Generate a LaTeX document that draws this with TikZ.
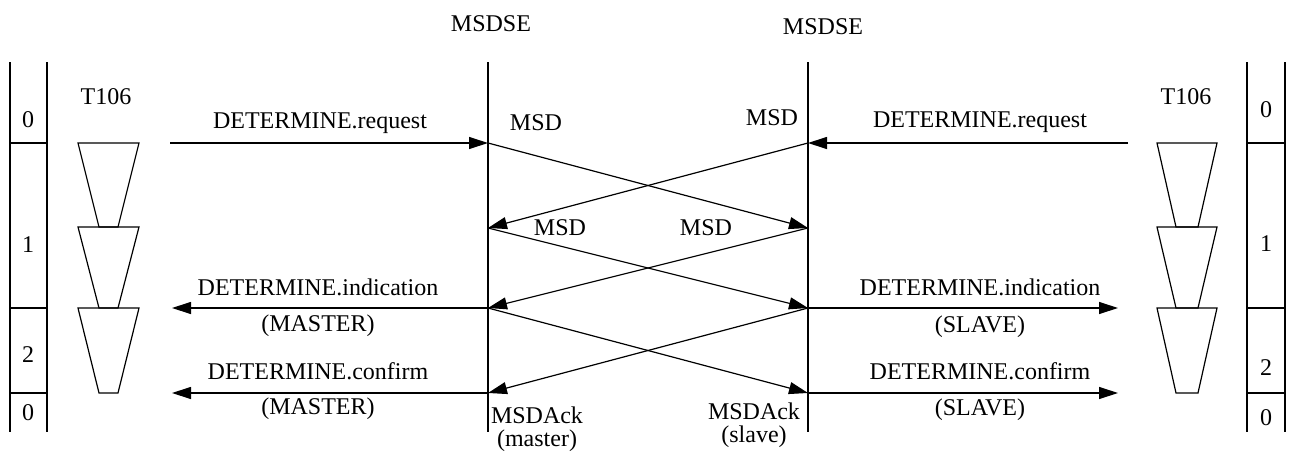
\documentclass[tikz,border=0pt]{standalone}
\usepackage{fontspec}
\setmainfont{Liberation Serif}
\usetikzlibrary{arrows.meta}
\tikzset{
  msg/.style={-{Triangle[length=9.5pt,width=6pt]}},
  lbl/.style={font=\fontsize{12}{14}\selectfont, inner sep=0pt},
}

\begin{document}
\begin{tikzpicture}[x=0.5pt, y=-0.5pt, line width=0.6pt]
\useasboundingbox (0,0) rectangle (1291,455);

% entidades MSDSE
\node[lbl] (seA) at (491,24) {MSDSE};
\node[lbl] (seB) at (823,27) {MSDSE};
\foreach \n/\x in {a/488, b/808}{
  \coordinate (\n top) at (\x,62);
  \coordinate (\n bot) at (\x,432);
  \draw (\n top) -- (\n bot);
  \foreach \lv/\y in {0/143, 1/228, 2/308, 3/393}
    \coordinate (\n\lv) at (\x,\y);
}

% extremos del lado usuario
\coordinate (uL0) at (170,143);
\coordinate (uL2) at (172,308);
\coordinate (uL3) at (172,393);
\coordinate (uR0) at (1128,143);
\coordinate (uR2) at (1118,308);
\coordinate (uR3) at (1118,393);

% primitivas
\draw[msg] (uL0) -- (a0);
\draw[msg] (uR0) -- (b0);
\draw[msg] (a2) -- (uL2);
\draw[msg] (a3) -- (uL3);
\draw[msg] (b2) -- (uR2);
\draw[msg] (b3) -- (uR3);

% mensajes cruzados
\foreach \i/\j in {0/1, 1/2, 2/3}{
  \draw[msg] (a\i) -- (b\j);
  \draw[msg] (b\i) -- (a\j);
}

\node[lbl] (reqL) at (320,123) {DETERMINE.request};
\node[lbl] (reqR) at (980,122) {DETERMINE.request};
\node[lbl] (indL) at (318,287) {DETERMINE.indication};
\node[lbl] (indLm) at (318,326) {(MASTER)};
\node[lbl] (indR) at (980,287) {DETERMINE.indication};
\node[lbl] (indRs) at (980,327) {(SLAVE)};
\node[lbl] (cnfL) at (318,371) {DETERMINE.confirm};
\node[lbl] (cnfLm) at (318,409) {(MASTER)};
\node[lbl] (cnfR) at (980,371) {DETERMINE.confirm};
\node[lbl] (cnfRs) at (980,410) {(SLAVE)};

\node[lbl] (msdA) at (536,123) {MSD};
\node[lbl] (msdB) at (772,118) {MSD};
\node[lbl] (msdC) at (560,228) {MSD};
\node[lbl] (msdD) at (706,228) {MSD};
\node[lbl] (ackA) at (537,415) {MSDAck};
\node[lbl] (ackAm) at (537,441) {(master)};
\node[lbl] (ackB) at (754,411) {MSDAck};
\node[lbl] (ackBs) at (754,437) {(slave)};

% temporizadores T106
\node[lbl] (tL) at (106,97) {T106};
\node[lbl] (tR) at (1186,97) {T106};
\foreach \t/\b in {143/227, 227/308, 308/393}{
  \draw (78,\t) -- (139,\t) -- (118,\b) -- (99,\b) -- cycle;
  \draw (1157,\t) -- (1217,\t) -- (1198,\b) -- (1176,\b) -- cycle;
}

% columnas de estado
\foreach \x in {10, 47, 1247, 1285}
  \draw (\x,62) -- (\x,432);
\foreach \y in {143, 308, 393}{
  \draw (10,\y) -- (47,\y);
  \draw (1247,\y) -- (1285,\y);
}
\foreach \s/\y [count=\k] in {0/120, 1/245, 2/355, 0/413}
  \node[lbl] (stL\k) at (28,\y) {\s};
\foreach \s/\y [count=\k] in {0/110, 1/244, 2/368, 0/418}
  \node[lbl] (stR\k) at (1266,\y) {\s};

\end{tikzpicture}
\end{document}
